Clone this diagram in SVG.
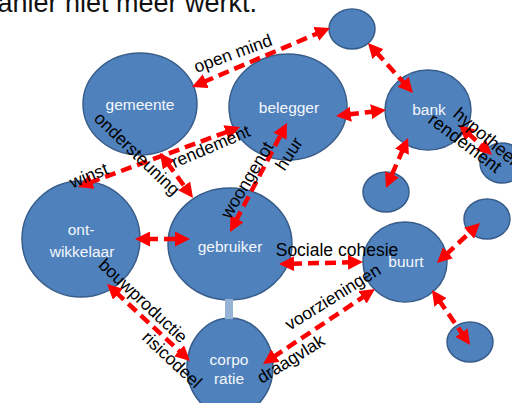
<svg xmlns="http://www.w3.org/2000/svg" width="512" height="403" viewBox="0 0 512 403">
<defs>
<style>
.n ellipse{fill:#4f81bd;stroke:#385d8a;stroke-width:1.5}
.nl{font-family:"Liberation Sans",Arial,sans-serif;font-size:15.5px;fill:#f4f7fb;text-anchor:middle}
.e{stroke:#ff0000;stroke-width:4.5;stroke-dasharray:11 6;fill:none;marker-start:url(#ah);marker-end:url(#ah)}
.el{font-family:"Liberation Sans",Arial,sans-serif;font-size:17.5px;fill:#000;text-anchor:middle}
.title{font-family:"Liberation Sans",Arial,sans-serif;font-size:27px;fill:#111;text-anchor:end}
</style>
<marker id="ah" viewBox="0 0 15 15" refX="3" refY="7.5" markerWidth="15" markerHeight="15" markerUnits="userSpaceOnUse" orient="auto-start-reverse">
<path d="M0,0 L15,7.5 L0,15 z" fill="#ff0000"/>
</marker>
</defs>
<rect width="512" height="403" fill="#fff"/>
<text class="title" x="257" y="12">manier niet meer werkt.</text>

<g id="gemeente" class="n"><ellipse cx="140" cy="104" rx="57" ry="51"/><text class="nl" x="140" y="110">gemeente</text></g>
<g id="belegger" class="n"><ellipse cx="288" cy="107" rx="59" ry="53"/><text class="nl" x="289" y="113">belegger</text></g>
<g id="bank" class="n"><ellipse cx="428" cy="110" rx="43" ry="40"/><text class="nl" x="429" y="115">bank</text></g>
<g id="klein-boven" class="n"><ellipse cx="352" cy="29" rx="23" ry="20"/></g>
<g id="klein-onder-bank" class="n"><ellipse cx="386" cy="192" rx="23" ry="20"/></g>
<g id="klein-rechts-bank" class="n"><ellipse cx="502" cy="163" rx="22" ry="20"/></g>
<g id="ontwikkelaar" class="n"><ellipse cx="81" cy="239" rx="59" ry="58"/><text class="nl" x="81" y="235">ont-</text><text class="nl" x="82" y="257">wikkelaar</text></g>
<g id="gebruiker" class="n"><ellipse cx="230" cy="244" rx="62" ry="56"/><text class="nl" x="230" y="252">gebruiker</text></g>
<g id="corporatie" class="n"><ellipse cx="230" cy="367" rx="43" ry="49"/><text class="nl" x="229" y="365">corpo</text><text class="nl" x="229" y="384">ratie</text></g>
<g id="buurt" class="n"><ellipse cx="405" cy="262" rx="42" ry="40"/><text class="nl" x="406" y="267">buurt</text></g>
<g id="klein-rechts-buurt" class="n"><ellipse cx="487" cy="219" rx="23" ry="20"/></g>
<g id="klein-onder-buurt" class="n"><ellipse cx="470" cy="342" rx="23" ry="20"/></g>

<g id="connectors">
<line x1="229" y1="299" x2="229" y2="319" stroke="#95b3d7" stroke-width="8"/>
<line class="e" x1="203" y1="82.3" x2="319" y2="32.7"/>
<line class="e" x1="376" y1="51.9" x2="405" y2="84.1"/>
<line class="e" x1="347.9" y1="114.6" x2="374.1" y2="111.4"/>
<line class="e" x1="403.2" y1="149" x2="390.8" y2="177"/>
<line class="e" x1="467.9" y1="133.1" x2="483.1" y2="146.9"/>
<line class="e" x1="89.2" y1="182.8" x2="228.8" y2="131.2"/>
<line class="e" x1="167.1" y1="162.7" x2="185.9" y2="188.3"/>
<line class="e" x1="235.6" y1="221.4" x2="281.4" y2="133.6"/>
<line class="e" x1="147" y1="239" x2="178" y2="239"/>
<line class="e" x1="115.8" y1="292.2" x2="181.2" y2="352.8"/>
<line class="e" x1="291" y1="263.7" x2="351" y2="262.3"/>
<line class="e" x1="273" y1="357.3" x2="365" y2="295.7"/>
<line class="e" x1="445.8" y1="254.8" x2="471.2" y2="231.2"/>
<line class="e" x1="438.8" y1="299.9" x2="463.2" y2="335.1"/>

<text class="el" transform="translate(235,59) rotate(-20)">open mind</text>
<text class="el" transform="translate(133,158) rotate(44)">ondersteuning</text>
<text class="el" transform="translate(91,181) rotate(-22)">winst</text>
<text class="el" transform="translate(213,152) rotate(-23)">rendement</text>
<text class="el" transform="translate(252,183) rotate(-59)">woongenot</text>
<text class="el" transform="translate(294,157) rotate(-57)">huur</text>
<text class="el" style="text-anchor:start;font-size:18px" transform="translate(452,116) rotate(40)">hypotheek</text>
<text class="el" style="text-anchor:start;font-size:18px" transform="translate(427,122) rotate(37)">rendement</text>
<text class="el" transform="translate(139,305) rotate(43)">bouwproductie</text>
<text class="el" transform="translate(168,364) rotate(43)">risicodeel</text>
<text class="el" x="337" y="256">Sociale cohesie</text>
<text class="el" transform="translate(336,302) rotate(-32)">voorzieningen</text>
<text class="el" transform="translate(294,364) rotate(-32)">draagvlak</text>
</g>
</svg>
